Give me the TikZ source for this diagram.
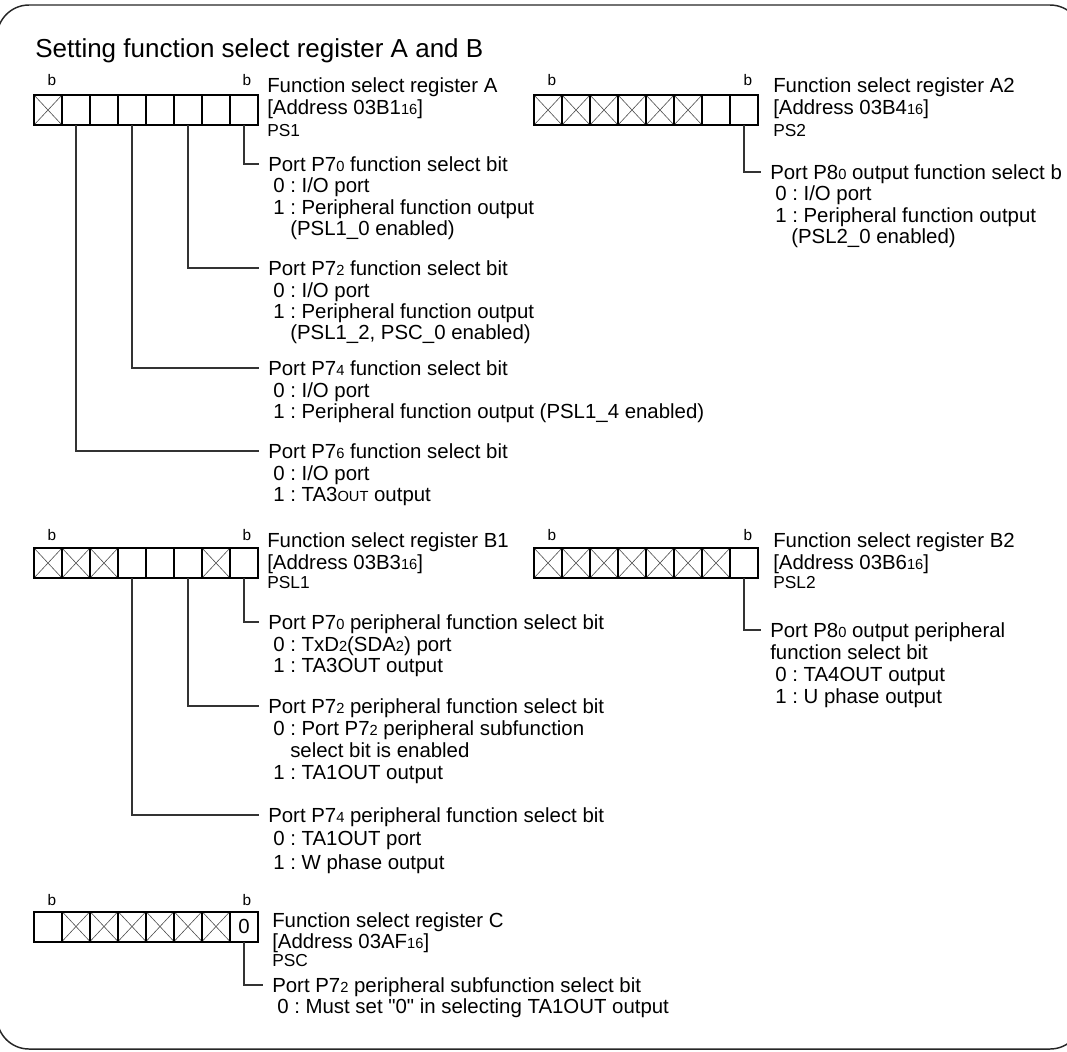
\documentclass[tikz,border=0pt]{standalone}
\usepackage{fontspec}
\setmainfont{Liberation Sans}
\frenchspacing
\newcommand\lo[1]{\raisebox{-0.6pt}{\fontsize{11pt}{11pt}\selectfont #1}}
\tikzset{
  txt/.style={font=\fontsize{15.3pt}{18pt}\selectfont, inner sep=0pt, anchor=base west},
  ttl/.style={font=\fontsize{19.5pt}{22pt}\selectfont, inner sep=0pt, anchor=base west},
  sml/.style={font=\fontsize{13pt}{15pt}\selectfont, inner sep=0pt, anchor=base west},
  blab/.style={font=\fontsize{11.5pt}{13pt}\selectfont, inner sep=0pt, anchor=base},
  xpp/.style={path picture={\draw[line width=0.45pt, black!70]
      (path picture bounding box.north west)--(path picture bounding box.south east)
      (path picture bounding box.south west)--(path picture bounding box.north east);}},
  crossed/.code={\ifnum#1=1\relax\tikzset{xpp}\fi},
  cell/.style={minimum width=21pt, minimum height=22.5pt, inner sep=0pt, outer sep=0pt},
  divider/.style={draw=black, line width=1.3pt},
  regframe/.style={draw=black, line width=1.5pt},
  conn/.style={draw=black!80, line width=0.8pt},
  frame/.style={draw=black!85, line width=1.1pt, rounded corners=24pt}
}
\begin{document}
\begin{tikzpicture}[x=0.75pt,y=-0.75pt]
\useasboundingbox (0,0) rectangle (1067,1051);
\draw[frame] (-3,5) rectangle (1082,1049);

\node[ttl] (title) at (35,57) {Setting function select register A and B};

% ---------------- Register A ----------------
\foreach \i/\f in {1/1,2/0,3/0,4/0,5/0,6/0,7/0,8/0}
  \node[cell, crossed=\f] (A-\i) at ({48+28*(\i-1)},110) {};
\foreach \i in {1,...,7} \draw[divider] (A-\i.north east) -- (A-\i.south east);
\draw[regframe] (A-1.north west) rectangle (A-8.south east);
\node[blab] (Ab7) at (52,85) {b};
\node[blab] (Ab0) at (247,85) {b};
\node[txt] (Ah1) at (267,92) {Function select register A};
\node[txt] (Ah2) at (267,114) {[Address 03B1\lo{16}]};
\node[sml] (Ah3) at (267,136) {PS1};

\coordinate (cA0) at (259,164);
\draw[conn] (A-8.south) |- (cA0);
\node[txt] (A0a) at (268,171) {Port P7\lo{0} function select bit};
\node[txt] (A0b) at (273,192) {0 : I/O port};
\node[txt] (A0c) at (273,214) {1 : Peripheral function output};
\node[txt] (A0d) at (290,235) {(PSL1\_0 enabled)};

\coordinate (cA2) at (259,268);
\draw[conn] (A-6.south) |- (cA2);
\node[txt] (A2a) at (268,275) {Port P7\lo{2} function select bit};
\node[txt] (A2b) at (273,297) {0 : I/O port};
\node[txt] (A2c) at (273,318) {1 : Peripheral function output};
\node[txt] (A2d) at (290,339) {(PSL1\_2, PSC\_0 enabled)};

\coordinate (cA4) at (259,368);
\draw[conn] (A-4.south) |- (cA4);
\node[txt] (A4a) at (268,375) {Port P7\lo{4} function select bit};
\node[txt] (A4b) at (273,397) {0 : I/O port};
\node[txt] (A4c) at (273,418) {1 : Peripheral function output (PSL1\_4 enabled)};

\coordinate (cA6) at (259,451);
\draw[conn] (A-2.south) |- (cA6);
\node[txt] (A6a) at (268,458) {Port P7\lo{6} function select bit};
\node[txt] (A6b) at (273,480) {0 : I/O port};
\node[txt] (A6c) at (273,501) {1 : TA3\lo{OUT} output};

% ---------------- Register A2 ----------------
\foreach \i/\f in {1/1,2/1,3/1,4/1,5/1,6/1,7/0,8/0}
  \node[cell, crossed=\f] (B-\i) at ({548+28*(\i-1)},110) {};
\foreach \i in {1,...,7} \draw[divider] (B-\i.north east) -- (B-\i.south east);
\draw[regframe] (B-1.north west) rectangle (B-8.south east);
\node[blab] (Bb7) at (552,85) {b};
\node[blab] (Bb0) at (748,85) {b};
\node[txt] (Bh1) at (773,92) {Function select register A2};
\node[txt] (Bh2) at (773,114) {[Address 03B4\lo{16}]};
\node[sml] (Bh3) at (773,136) {PS2};

\coordinate (cB0) at (761,172);
\draw[conn] (B-8.south) |- (cB0);
\node[txt] (B0a) at (770,179) {Port P8\lo{0} output function select b};
\node[txt] (B0b) at (775,200) {0 : I/O port};
\node[txt] (B0c) at (775,222) {1 : Peripheral function output};
\node[txt] (B0d) at (791,243) {(PSL2\_0 enabled)};

% ---------------- Register B1 ----------------
\foreach \i/\f in {1/1,2/1,3/1,4/0,5/0,6/0,7/1,8/0}
  \node[cell, crossed=\f] (C-\i) at ({48+28*(\i-1)},563) {};
\foreach \i in {1,...,7} \draw[divider] (C-\i.north east) -- (C-\i.south east);
\draw[regframe] (C-1.north west) rectangle (C-8.south east);
\node[blab] (Cb7) at (52,540) {b};
\node[blab] (Cb0) at (247,540) {b};
\node[txt] (Ch1) at (267,547) {Function select register B1};
\node[txt] (Ch2) at (267,569) {[Address 03B3\lo{16}]};
\node[sml] (Ch3) at (267,588) {PSL1};

\coordinate (cC0) at (259,622);
\draw[conn] (C-8.south) |- (cC0);
\node[txt] (C0a) at (268,629) {Port P7\lo{0} peripheral function select bit};
\node[txt] (C0b) at (273,651) {0 : TxD\lo{2}(SDA\lo{2}) port};
\node[txt] (C0c) at (273,672) {1 : TA3OUT output};

\coordinate (cC2) at (259,706);
\draw[conn] (C-6.south) |- (cC2);
\node[txt] (C2a) at (268,713) {Port P7\lo{2} peripheral function select bit};
\node[txt] (C2b) at (273,735) {0 : Port P7\lo{2} peripheral subfunction};
\node[txt] (C2c) at (290,757) {select bit is enabled};
\node[txt] (C2d) at (273,779) {1 : TA1OUT output};

\coordinate (cC4) at (259,815);
\draw[conn] (C-4.south) |- (cC4);
\node[txt] (C4a) at (268,822) {Port P7\lo{4} peripheral function select bit};
\node[txt] (C4b) at (273,845) {0 : TA1OUT port};
\node[txt] (C4c) at (273,869) {1 : W phase output};

% ---------------- Register B2 ----------------
\foreach \i/\f in {1/1,2/1,3/1,4/1,5/1,6/1,7/1,8/0}
  \node[cell, crossed=\f] (D-\i) at ({548+28*(\i-1)},563) {};
\foreach \i in {1,...,7} \draw[divider] (D-\i.north east) -- (D-\i.south east);
\draw[regframe] (D-1.north west) rectangle (D-8.south east);
\node[blab] (Db7) at (552,540) {b};
\node[blab] (Db0) at (748,540) {b};
\node[txt] (Dh1) at (773,547) {Function select register B2};
\node[txt] (Dh2) at (773,569) {[Address 03B6\lo{16}]};
\node[sml] (Dh3) at (773,588) {PSL2};

\coordinate (cD0) at (761,630);
\draw[conn] (D-8.south) |- (cD0);
\node[txt] (D0a) at (770,637) {Port P8\lo{0} output peripheral};
\node[txt] (D0b) at (770,659) {function select bit};
\node[txt] (D0c) at (775,681) {0 : TA4OUT output};
\node[txt] (D0d) at (775,703) {1 : U phase output};

% ---------------- Register C ----------------
\foreach \i/\f in {1/0,2/1,3/1,4/1,5/1,6/1,7/1,8/0}
  \node[cell, crossed=\f] (E-\i) at ({48+28*(\i-1)},926.5) {};
\foreach \i in {1,...,7} \draw[divider] (E-\i.north east) -- (E-\i.south east);
\draw[regframe] (E-1.north west) rectangle (E-8.south east);
\node[font=\fontsize{15.3pt}{18pt}\selectfont, inner sep=0pt] (E0) at (E-8.center) {0};
\node[blab] (Eb7) at (52,905) {b};
\node[blab] (Eb0) at (247,905) {b};
\node[txt] (Eh1) at (272,927) {Function select register C};
\node[txt] (Eh2) at (272,948) {[Address 03AF\lo{16}]};
\node[sml] (Eh3) at (272,966) {PSC};

\coordinate (cE2) at (263,985);
\draw[conn] (E-8.south) |- (cE2);
\node[txt] (E2a) at (272,992) {Port P7\lo{2} peripheral subfunction select bit};
\node[txt] (E2b) at (277,1013) {0 : Must set \textquotedbl 0\textquotedbl{} in selecting TA1OUT output};
\end{tikzpicture}
\end{document}
